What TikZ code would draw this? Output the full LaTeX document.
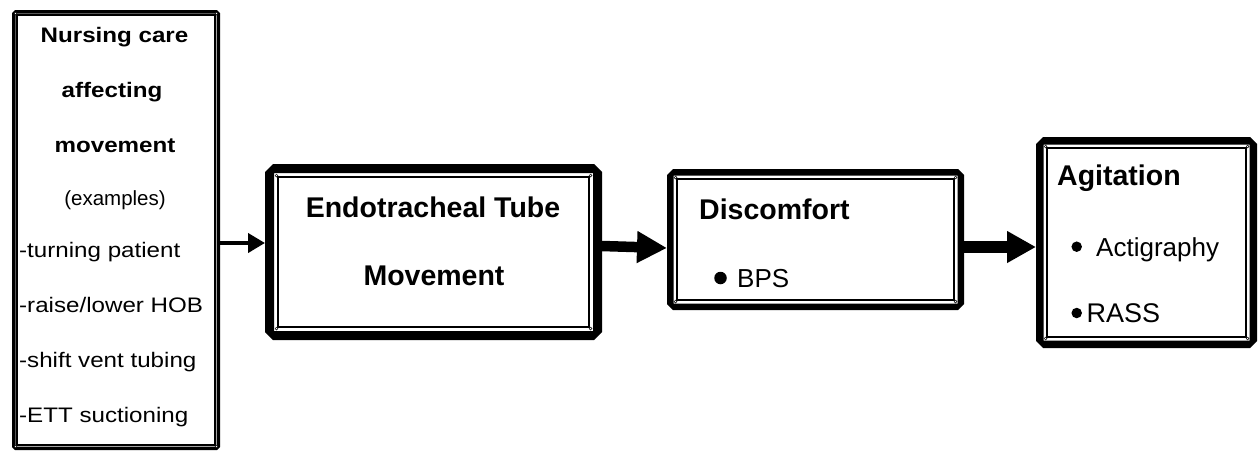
\documentclass[tikz,border=0pt]{standalone}
\usepackage{fontspec}
\setmainfont{Liberation Sans}
\newfontfamily\widesans{Liberation Sans}[FakeStretch=1.15]
\usetikzlibrary{arrows.meta}
\newcommand\fsz[1]{\fontsize{#1}{#1}\selectfont}
% #1 node, #2 outer thickness, #3 chamfer, #4 inner line offset, #5 inner line width
\newcommand\dblframe[5]{%
  \fill[black, even odd rule]
    ([shift={(#3,0)}]#1.north west) -- ([shift={(-#3,0)}]#1.north east) --
    ([shift={(0,#3)}]#1.north east) -- ([shift={(0,-#3)}]#1.south east) --
    ([shift={(-#3,0)}]#1.south east) -- ([shift={(#3,0)}]#1.south west) --
    ([shift={(0,-#3)}]#1.south west) -- ([shift={(0,#3)}]#1.north west) -- cycle
    ([shift={(#2,#2)}]#1.north west) rectangle ([shift={(-#2,-#2)}]#1.south east);
  \draw[line width=#5]
    ([shift={(#4,#4)}]#1.north west) rectangle ([shift={(-#4,-#4)}]#1.south east);
  \foreach \cn/\sx/\sy in {north west/1/1, north east/-1/1, south east/-1/-1, south west/1/-1}{
    \draw[line width=0.5pt, fill=white] ([shift={(\sx*#4-\sx*1.5,\sy*#4-\sy*1.5)}]#1.\cn) circle[radius=1.4];
  }%
}
\tikzset{
  boxnode/.style={rectangle, draw=none, inner sep=0pt, outer sep=0pt},
  ttl/.style={inner sep=0pt, anchor=base},
  itm/.style={inner sep=0pt, anchor=base west},
  dot/.style={circle, fill=black, inner sep=0pt},
}
\begin{document}
\begin{tikzpicture}[x=1pt, y=-1pt]
\useasboundingbox[fill=white] (0,0) rectangle (1258,451);

% boxes
\node[boxnode, minimum width=208pt, minimum height=440pt] (nurse) at (116,230) {};
\node[boxnode, minimum width=337pt, minimum height=176pt] (ett) at (433.5,252) {};
\node[boxnode, minimum width=297pt, minimum height=141pt] (disc) at (815.5,239.5) {};
\node[boxnode, minimum width=221pt, minimum height=211pt] (agit) at (1146.5,242.5) {};

\dblframe{nurse}{3.5}{3}{5}{1.1pt}
\dblframe{ett}{9}{8}{13}{2pt}
\dblframe{disc}{6.5}{6}{10}{1.6pt}
\dblframe{agit}{7.5}{7}{11}{1.8pt}

% nursing care text
\node[ttl] (n1) at (114.5,42) {\widesans\bfseries\fsz{21}Nursing care};
\node[ttl] (n2) at (112,97) {\widesans\bfseries\fsz{21}affecting};
\node[ttl] (n3) at (115,152) {\widesans\bfseries\fsz{21}movement};
\node[ttl] (n4) at (115,205) {\fsz{20.5}(examples)};
\node[itm] (n5) at (19,257) {\widesans\fsz{21}-turning patient};
\node[itm] (n6) at (19,312) {\widesans\fsz{21}-raise/lower HOB};
\node[itm] (n7) at (19,367) {\widesans\fsz{21}-shift vent tubing};
\node[itm] (n8) at (19,422) {\widesans\fsz{21}-ETT suctioning};

% ETT text
\node[ttl] (e1) at (433,217) {\bfseries\fsz{28.5}Endotracheal Tube};
\node[ttl] (e2) at (434,285) {\bfseries\fsz{28.5}Movement};

% discomfort
\node[itm] (d1) at (699,219) {\bfseries\fsz{28.5}Discomfort};
\node[dot, minimum size=12.5pt] (d2b) at (720.5,278) {};
\node[itm] (d2) at (737,287) {\fsz{26}BPS};

% agitation
\node[itm] (g1) at (1057,185) {\bfseries\fsz{28.5}Agitation};
\node[dot, minimum size=10.5pt] (g2b) at (1076.7,246.7) {};
\node[itm] (g2) at (1096,256) {\fsz{26}Actigraphy};
\node[dot, minimum size=10.5pt] (g3b) at (1076.7,313) {};
\node[itm] (g3) at (1086.5,322) {\fsz{27}RASS};

% connectors
\coordinate (a1) at (0,243);
\coordinate (a2s) at (0,246);
\coordinate (a2e) at (0,248);
\coordinate (a3) at (0,247);
\draw[line width=4pt, -{Triangle[length=17pt,width=19pt]}] (nurse.east |- a1) -- (ett.west |- a1);
\draw[line width=10.5pt, -{Triangle[length=30pt,width=30pt]}] (ett.east |- a2s) -- (disc.west |- a2e);
\draw[line width=12.5pt, -{Triangle[length=29pt,width=30pt]}] (disc.east |- a3) -- (agit.west |- a3);
\end{tikzpicture}
\end{document}
